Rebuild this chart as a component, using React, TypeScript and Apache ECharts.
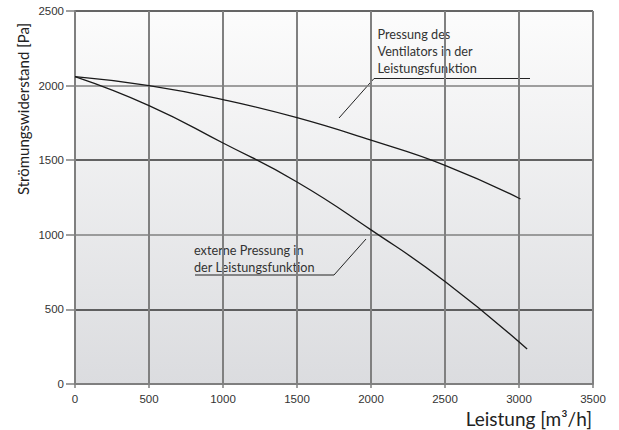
import React, { useEffect, useRef } from "react";
import * as echarts from "echarts";

const ventilatorCurve: [number, number][] = [
  [0, 2060], [500, 2000], [1000, 1906], [1500, 1785], [2000, 1634], [2500, 1466], [3010, 1240],
];
const externalCurve: [number, number][] = [
  [0, 2060], [500, 1866], [1000, 1615], [1500, 1354], [2000, 1033], [2500, 687], [3055, 235],
];
const xTicks = [0, 500, 1000, 1500, 2000, 2500, 3000, 3500];
const yTicks = [0, 500, 1000, 1500, 2000, 2500];
const yTitle = "Strömungswiderstand [Pa]";
const xTitle = "Leistung [m³/h]";
const noteVentilator = ["Pressung des", "Ventilators in der", "Leistungsfunktion"];
const noteExternal = ["externe Pressung in", "der Leistungsfunktion"];

const TXT = "Lato, 'Open Sans', sans-serif";
const LBL = "'Liberation Sans', Arial, sans-serif";

export default function App() {
  const ref = useRef<HTMLDivElement>(null);
  useEffect(() => {
    document.body.style.margin = "0";
    const chart = echarts.init(ref.current!, null, { renderer: "svg" });
    const noteText = (lines: string[], x: number, y0: number) =>
      lines.map((t, i) => ({
        type: "text",
        x,
        y: y0 + i * 17,
        style: { text: t, font: `12.7px ${TXT}`, fill: "#333", verticalAlign: "middle", align: "left" },
      }));
    chart.setOption({
      animation: false,
      grid: {
        left: 75, right: 26, top: 11, bottom: 46,
        show: true, borderWidth: 0,
        backgroundColor: new echarts.graphic.LinearGradient(0, 0, 0, 1, [
          { offset: 0, color: "#fcfcfc" },
          { offset: 1, color: "#dbdcdf" },
        ]),
      },
      xAxis: {
        type: "value", min: xTicks[0], max: xTicks[xTicks.length - 1], interval: 500,
        axisLine: { show: true, lineStyle: { color: "#7f7f7f", width: 2 } },
        axisTick: { show: true, length: 4, lineStyle: { color: "#7f7f7f", width: 1.5 } },
        axisLabel: { color: "#333", fontFamily: LBL, fontSize: 11.5, margin: 9, formatter: (v: number) => String(v) },
        splitLine: { show: true, lineStyle: { color: "#808080", width: 2 } },
      },
      yAxis: {
        type: "value", min: yTicks[0], max: yTicks[yTicks.length - 1], interval: 500,
        axisLine: { show: true, lineStyle: { color: "#7f7f7f", width: 2 } },
        axisTick: { show: true, length: 9, lineStyle: { color: "#7f7f7f", width: 1.5 } },
        axisLabel: { color: "#333", fontFamily: LBL, fontSize: 11.5, margin: 11, formatter: (v: number) => String(v) },
        splitLine: { show: true, lineStyle: { color: ["#808080", "#333333"], width: 1.6 } },
      },
      series: [
        {
          type: "line", data: ventilatorCurve, smooth: true, showSymbol: false,
          lineStyle: { color: "#1a1a1a", width: 1.3 }, z: 5,
        },
        {
          type: "line", data: externalCurve, smooth: true, showSymbol: false,
          lineStyle: { color: "#1a1a1a", width: 1.3 }, z: 5,
        },
      ],
      graphic: [
        {
          type: "text", x: 22.5, y: 109, rotation: Math.PI / 2,
          style: { text: yTitle, font: `15px ${TXT}`, fill: "#222", align: "center", verticalAlign: "middle" },
        },
        {
          type: "text", x: 592, y: 418,
          style: { text: xTitle, font: `19px ${TXT}`, fill: "#222", align: "right", verticalAlign: "middle" },
        },
        ...noteText(noteVentilator, 377.5, 34),
        {
          type: "polyline",
          shape: { points: [[339, 118], [374, 78.5], [530, 78.5]] },
          style: { stroke: "#222", lineWidth: 1, fill: null },
        },
        ...noteText(noteExternal, 194, 250),
        {
          type: "polyline",
          shape: { points: [[366, 239], [334, 275], [195, 275]] },
          style: { stroke: "#222", lineWidth: 1, fill: null },
        },
      ],
    });
    return () => chart.dispose();
  }, []);
  return <div ref={ref} style={{ width: 619, height: 430, position: "absolute", left: 0, top: 0 }} />;
}
